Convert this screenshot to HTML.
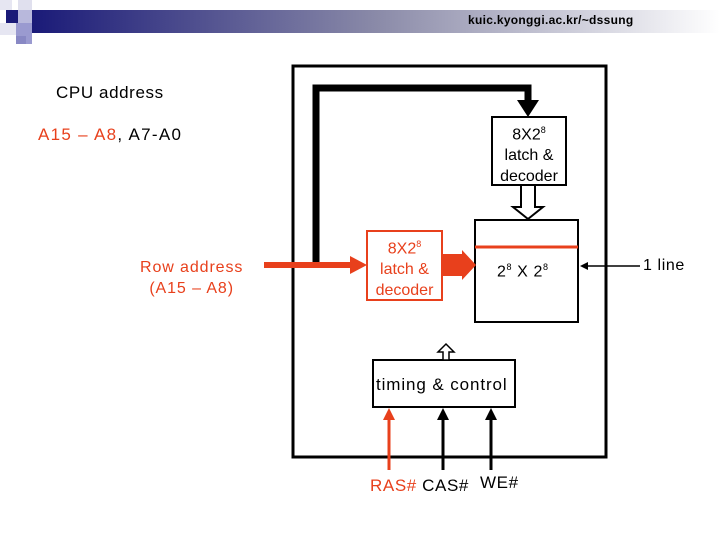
<!DOCTYPE html>
<html><head><style>
body{margin:0;width:720px;height:540px;background:#fff;overflow:hidden;position:relative;font-family:"Liberation Sans",sans-serif}
.t{position:absolute;white-space:nowrap;letter-spacing:0.6px}
</style></head><body>
<svg width="720" height="540" style="position:absolute;left:0;top:0">
<defs>
<linearGradient id="g" x1="0" x2="1"><stop offset="0" stop-color="#1a1a78"/><stop offset="0.5" stop-color="#8a8aa8"/><stop offset="1" stop-color="#ffffff"/></linearGradient>
</defs>
<rect x="32" y="10" width="688" height="23" fill="url(#g)"/>
<rect x="0" y="0" width="12" height="10" fill="#e6e6f2"/>
<rect x="6" y="10" width="12" height="13" fill="#1a1a78"/>
<rect x="18" y="10" width="14" height="13" fill="#b8b8dc"/>
<rect x="18" y="0" width="14" height="10" fill="#e0e0ee"/>
<rect x="0" y="23" width="16" height="12" fill="#e6e6f2"/>
<rect x="16" y="23" width="16" height="21" fill="#9a9ad0"/>
<rect x="16" y="36" width="10" height="8" fill="#8888c4"/>
<rect x="293" y="66" width="313" height="391" fill="none" stroke="#000" stroke-width="3"/>
<polyline points="316,267 316,88 528,88 528,104" fill="none" stroke="#000" stroke-width="7"/>
<polygon points="517,100 539,100 528,117" fill="#000"/>
<rect x="492" y="117" width="74" height="68" fill="#fff" stroke="#000" stroke-width="2"/>
<polygon points="521,185 535,185 535,207 543,207 528,219 513,207 521,207" fill="#fff" stroke="#000" stroke-width="2"/>
<rect x="475" y="220" width="103" height="102" fill="#fff" stroke="#000" stroke-width="2"/>
<line x1="475" y1="247" x2="578" y2="247" stroke="#e8401c" stroke-width="3"/>
<line x1="264" y1="265" x2="352" y2="265" stroke="#e8401c" stroke-width="6"/>
<polygon points="350,256 367,265 350,274" fill="#e8401c"/>
<rect x="367" y="231" width="75" height="69" fill="#fff" stroke="#e8401c" stroke-width="2"/>
<polygon points="442,254 462,254 462,250 476,265 462,280 462,276 442,276" fill="#e8401c"/>
<line x1="583" y1="266" x2="640" y2="266" stroke="#000" stroke-width="1.5"/>
<polygon points="580,266 588,262 588,270" fill="#000"/>
<rect x="373" y="360" width="142" height="47" fill="#fff" stroke="#000" stroke-width="2"/>
<polygon points="443,360 449,360 449,352 454,352 446,344 438,352 443,352" fill="#fff" stroke="#000" stroke-width="1.5"/>
<line x1="389" y1="470" x2="389" y2="418" stroke="#e8401c" stroke-width="3"/>
<polygon points="383,420 395,420 389,408" fill="#e8401c"/>
<line x1="443" y1="470" x2="443" y2="418" stroke="#000" stroke-width="3"/>
<polygon points="437,420 449,420 443,408" fill="#000"/>
<line x1="491" y1="470" x2="491" y2="418" stroke="#000" stroke-width="3"/>
<polygon points="485,420 497,420 491,408" fill="#000"/>
</svg>
<div class="t" style="left:468px;top:13px;font-size:12px;font-weight:bold;letter-spacing:0.3px">kuic.kyonggi.ac.kr/~dssung</div>
<div class="t" style="left:56px;top:83px;font-size:17px">CPU address</div>
<div class="t" style="left:38px;top:125px;font-size:17px;letter-spacing:1.3px"><span style="color:#e8401c">A15 – A8</span>, A7-A0</div>
<div class="t" style="left:140px;top:257px;font-size:16px;color:#e8401c;text-align:center;line-height:21px;letter-spacing:0.9px">Row address<br>(A15 – A8)</div>
<div class="t" style="left:492px;top:120px;width:74px;font-size:16px;text-align:center;line-height:21px;letter-spacing:0">8X2<sup style="font-size:9px">8</sup><br>latch &amp;<br>decoder</div>
<div class="t" style="left:367px;top:234px;width:75px;font-size:16px;text-align:center;line-height:21px;color:#e8401c;letter-spacing:0">8X2<sup style="font-size:9px">8</sup><br>latch &amp;<br>decoder</div>
<div class="t" style="left:497px;top:262px;font-size:16px">2<sup style="font-size:9px">8</sup> X 2<sup style="font-size:9px">8</sup></div>
<div class="t" style="left:643px;top:257px;font-size:16px">1 line</div>
<div class="t" style="left:376px;top:375px;font-size:17px;letter-spacing:0.9px">timing &amp; control</div>
<div class="t" style="left:370px;top:476px;font-size:17px"><span style="color:#e8401c">RAS#</span> CAS#</div>
<div class="t" style="left:480px;top:473px;font-size:17px">WE#</div>
</body></html>
